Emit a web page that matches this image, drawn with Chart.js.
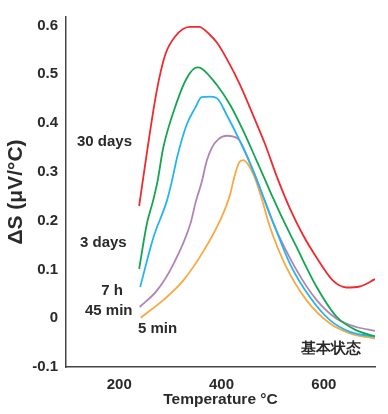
<!DOCTYPE html>
<html>
<head>
<meta charset="utf-8">
<script src="https://cdn.jsdelivr.net/npm/chart.js@4/dist/chart.umd.min.js"></script>
<style>
  html, body { margin: 0; padding: 0; background: #fff; }
  #wrap { width: 388px; height: 414px; position: relative; }
</style>
</head>
<body>
<div id="wrap"><canvas id="c" width="388" height="414"></canvas></div>
<script>
// ---- Data ----
const xTicks = [200, 400, 600];
const yTicks = [-0.1, 0, 0.1, 0.2, 0.3, 0.4, 0.5, 0.6];

const seriesNames = ['30 days', '3 days', '7 h', '45 min', '5 min'];

const temp30d = [239, 246, 273, 290, 309, 338, 356, 377, 391, 410, 436, 461, 485, 510, 534, 559, 586, 617, 644, 670, 700];
const ds30d   = [0.230, 0.281, 0.464, 0.540, 0.577, 0.597, 0.597, 0.581, 0.565, 0.532, 0.479, 0.418, 0.357, 0.285, 0.224, 0.171, 0.124, 0.078, 0.063, 0.065, 0.080];

const temp3d = [239, 254, 266, 275, 286, 313, 332, 352, 361, 391, 417, 443, 469, 485, 500, 514, 547, 586, 625, 664, 700];
const ds3d   = [0.101, 0.193, 0.240, 0.281, 0.349, 0.444, 0.492, 0.514, 0.512, 0.478, 0.437, 0.383, 0.322, 0.284, 0.248, 0.216, 0.145, 0.064, 0.003, -0.025, -0.037];

const temp7h = [241, 267, 293, 303, 313, 332, 348, 361, 378, 392, 410, 436, 462, 485, 501, 534, 573, 612, 651, 700];
const ds7h   = [0.064, 0.166, 0.240, 0.281, 0.329, 0.397, 0.430, 0.453, 0.454, 0.450, 0.417, 0.363, 0.302, 0.240, 0.196, 0.111, 0.043, -0.004, -0.028, -0.038];

const temp45m = [240, 274, 306, 339, 350, 361, 371, 381, 394, 410, 433, 446, 462, 482, 501, 547, 586, 625, 664, 700];
const ds45m   = [0.023, 0.057, 0.111, 0.193, 0.240, 0.278, 0.322, 0.349, 0.367, 0.374, 0.367, 0.342, 0.302, 0.247, 0.195, 0.098, 0.037, -0.001, -0.018, -0.026];

const temp5m = [242, 286, 325, 365, 397, 417, 423, 435, 443, 452, 465, 478, 495, 527, 566, 612, 651, 700];
const ds5m   = [0.001, 0.037, 0.077, 0.138, 0.200, 0.254, 0.281, 0.320, 0.324, 0.315, 0.288, 0.247, 0.186, 0.104, 0.037, -0.011, -0.031, -0.042];

const lineColors = ['#ee2a2f', '#14a550', '#27b4ee', '#b084b4', '#f8a944'];

// ---- Chart ----
function pts(xs, ys) { return xs.map((x, i) => ({ x: x, y: ys[i] })); }
const allX = [temp30d, temp3d, temp7h, temp45m, temp5m];
const allY = [ds30d, ds3d, ds7h, ds45m, ds5m];

const FONT = '"Liberation Sans", Arial, Helvetica, sans-serif';
const TXT = '#2a2a2a';

const labelPlugin = {
  id: 'labels',
  afterDraw(chart) {
    const ctx = chart.ctx;
    ctx.save();
    ctx.fillStyle = TXT;
    ctx.font = 'bold 15px ' + FONT;
    ctx.textBaseline = 'middle';
    ctx.textAlign = 'left';
    ctx.fillText(seriesNames[0], 77, 142);
    ctx.fillText(seriesNames[1], 80, 243);
    ctx.textAlign = 'center';
    ctx.fillText(seriesNames[2], 112, 291);
    ctx.textAlign = 'left';
    ctx.fillText(seriesNames[3], 85, 311);
    ctx.fillText(seriesNames[4], 138, 329);
    ctx.fillText('基本状态', 301, 349);
    ctx.restore();
  }
};

new Chart(document.getElementById('c'), {
  type: 'line',
  data: {
    datasets: allX.map((xs, i) => ({
      label: seriesNames[i],
      data: pts(xs, allY[i]),
      borderColor: lineColors[i],
      borderWidth: 1.8,
      pointRadius: 0,
      fill: false,
      cubicInterpolationMode: 'monotone'
    }))
  },
  options: {
    responsive: false,
    animation: false,
    devicePixelRatio: 1,
    layout: { padding: { left: 0, right: 13, top: 15, bottom: 0 } },
    plugins: { legend: { display: false }, tooltip: { enabled: false } },
    scales: {
      x: {
        type: 'linear',
        min: 96, max: 700,
        grid: { display: false, drawTicks: false },
        border: { display: true, color: '#444', width: 1.5 },
        afterFit(s) { s.height = 47; },
        afterBuildTicks(s) { s.ticks = xTicks.map(v => ({ value: v })); },
        ticks: { color: TXT, font: { family: FONT, size: 15, weight: 'bold' }, padding: 9, maxRotation: 0 },
        title: { display: true, text: 'Temperature °C', color: TXT,
                 font: { family: FONT, size: 15.5, weight: 'bold', lineHeight: 1.2 },
                 padding: { top: 0, bottom: 5 } }
      },
      y: {
        type: 'linear',
        min: -0.1, max: 0.6174,
        grid: { display: false, drawTicks: false },
        border: { display: true, color: '#444', width: 1.5 },
        afterFit(s) { s.width = 66; },
        afterBuildTicks(s) { s.ticks = yTicks.map(v => ({ value: v })); },
        ticks: { color: TXT, font: { family: FONT, size: 15, weight: 'bold' }, padding: 8,
                 callback: v => (Math.abs(v) < 1e-9 ? '0' : String(Math.round(v * 10) / 10)) },
        title: { display: true, text: 'ΔS (μV/°C)', color: TXT,
                 font: { family: FONT, size: 21, weight: 'bold', lineHeight: 1.2 },
                 padding: { top: 4, bottom: 0 } }
      }
    }
  },
  plugins: [labelPlugin]
});
</script>
</body>
</html>
